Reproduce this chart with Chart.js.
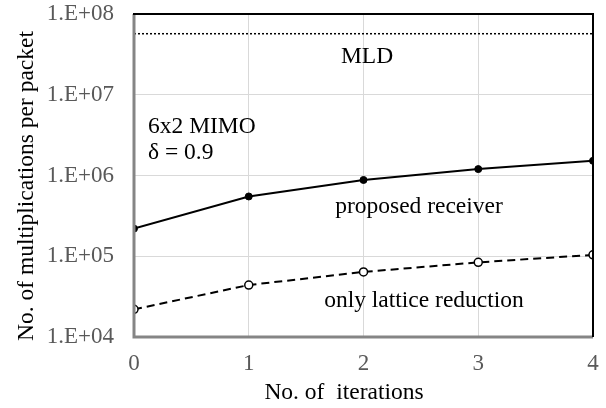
<!DOCTYPE html>
<html>
<head>
<meta charset="utf-8">
<script src="https://cdn.jsdelivr.net/npm/chart.js@4/dist/chart.umd.min.js"></script>
<style>
    html, body { margin: 0; padding: 0; background: #fff; }
    #wrap { width: 606px; height: 408px; position: relative; }
</style>
</head>
<body>
<div id="wrap"><canvas id="chart"></canvas></div>
<script>
// iterations on the x axis
const iterations = [0, 1, 2, 3, 4];
// multiplications per packet
const proposedReceiver = [2.2e5, 5.5e5, 8.8e5, 1.2e6, 1.52e6];
const latticeOnly = [2.2e4, 4.4e4, 6.4e4, 8.4e4, 1.04e5];
const mldLevel = 5.7e7;
const yTicks = [1e4, 1e5, 1e6, 1e7, 1e8];

const serif = "'Liberation Serif', 'Times New Roman', serif";

function toPoints(values) {
    return iterations.map((x, i) => ({ x: x, y: values[i] }));
}

// drop the extra room Chart.js reserves for overhanging tick labels
function noOverhang(scale) {
    scale.paddingTop = 0;
    scale.paddingBottom = 0;
    scale.paddingLeft = 0;
    scale.paddingRight = 0;
}

// frame + free text labels
const decorations = {
    id: 'decorations',
    afterDatasetsDraw(chart) {
        const ctx = chart.ctx;
        const a = chart.chartArea;
        ctx.save();

        // left/bottom axis lines are gray, top/right are black
        ctx.lineWidth = 3;
        ctx.strokeStyle = '#858585';
        ctx.beginPath();
        ctx.moveTo(a.left, a.top);
        ctx.lineTo(a.left, a.bottom);
        ctx.lineTo(a.right, a.bottom);
        ctx.stroke();
        ctx.lineWidth = 2;
        ctx.strokeStyle = '#000';
        ctx.beginPath();
        ctx.moveTo(a.left - 1, a.top);
        ctx.lineTo(a.right, a.top);
        ctx.lineTo(a.right, a.bottom);
        ctx.stroke();

        ctx.fillStyle = '#000';
        ctx.font = '23.5px ' + serif;
        ctx.textBaseline = 'middle';
        ctx.textAlign = 'center';
        ctx.fillText('MLD', 367, 57);
        ctx.fillText('proposed receiver', 419, 207);
        ctx.fillText('only lattice reduction', 424, 301);
        ctx.textAlign = 'left';
        ctx.fillText('6x2 MIMO', 148, 127);
        ctx.fillText('\u03b4 = 0.9', 148, 153);

        // axis titles
        ctx.textAlign = 'center';
        ctx.fillText('No. of  iterations', 344, 393);
        ctx.translate(27, 186);
        ctx.rotate(-Math.PI / 2);
        ctx.fillText('No. of multiplications per packet', 0, 0);
        ctx.restore();
    }
};

const ctx = document.getElementById('chart').getContext('2d');
new Chart(ctx, {
    type: 'line',
    data: {
        datasets: [
            {
                label: 'MLD',
                data: [{ x: 0, y: mldLevel }, { x: 4, y: mldLevel }],
                borderColor: '#000',
                borderWidth: 1.5,
                borderDash: [2, 2],
                pointRadius: 0
            },
            {
                label: 'proposed receiver',
                data: toPoints(proposedReceiver),
                borderColor: '#000',
                borderWidth: 2,
                pointRadius: 3.5,
                pointBackgroundColor: '#000',
                pointBorderColor: '#000',
                pointBorderWidth: 1
            },
            {
                label: 'only lattice reduction',
                data: toPoints(latticeOnly),
                borderColor: '#000',
                borderWidth: 2,
                borderDash: [8, 5],
                pointRadius: 4,
                pointBackgroundColor: '#fff',
                pointBorderColor: '#000',
                pointBorderWidth: 1.5
            }
        ]
    },
    options: {
        responsive: true,
        maintainAspectRatio: false,
        animation: false,
        layout: { autoPadding: false, padding: { top: 14, right: 13, left: 0, bottom: 0 } },
        plugins: {
            legend: { display: false },
            tooltip: { enabled: false }
        },
        scales: {
            x: {
                type: 'linear',
                min: 0,
                max: 4,
                afterFit: (scale) => { scale.height = 71; noOverhang(scale); },
                grid: { color: '#d9d9d9', lineWidth: 1, drawTicks: false },
                border: { display: false },
                ticks: {
                    stepSize: 1,
                    padding: 13,
                    color: '#595959',
                    font: { family: serif, size: 23 }
                }
            },
            y: {
                type: 'logarithmic',
                min: 1e4,
                max: 1e8,
                afterFit: (scale) => { scale.width = 134; noOverhang(scale); },
                afterBuildTicks: (scale) => {
                    scale.ticks = yTicks.map(v => ({ value: v }));
                },
                grid: { color: '#d9d9d9', lineWidth: 1, drawTicks: false },
                border: { display: false },
                ticks: {
                    padding: 20,
                    color: '#595959',
                    font: { family: serif, size: 23 },
                    callback: (value) => '1.E+' + String(Math.round(Math.log10(value))).padStart(2, '0')
                }
            }
        }
    },
    plugins: [decorations]
});
</script>
</body>
</html>
